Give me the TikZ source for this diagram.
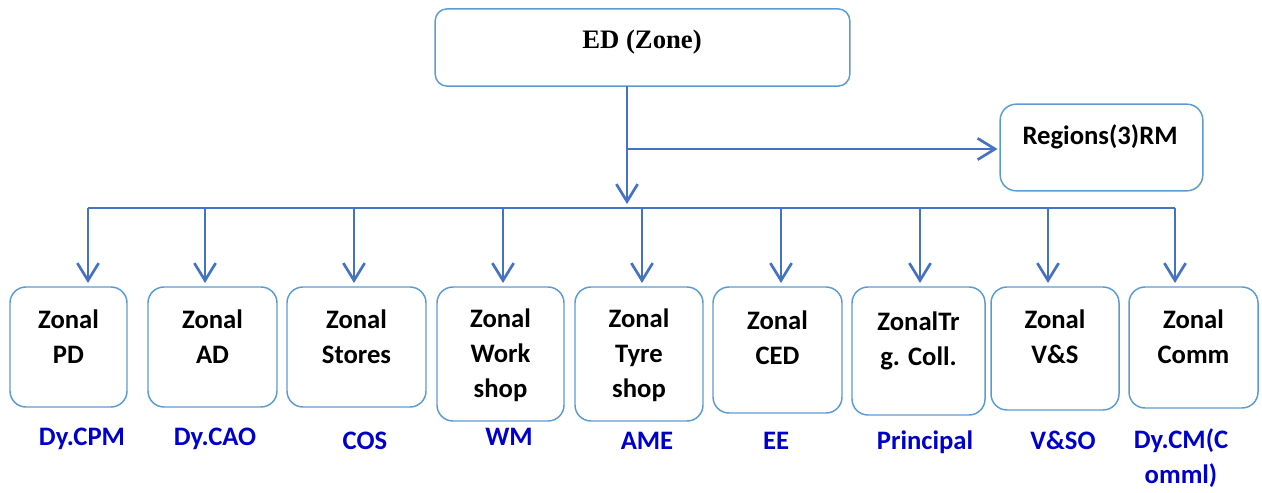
\documentclass[tikz,border=0pt]{standalone}
\usepackage{fontspec}
\setmainfont{Carlito}
\newfontfamily\edfont{Liberation Serif}
\usepackage{tikz}
\usetikzlibrary{arrows.meta, positioning}

\definecolor{boxline}{HTML}{5B9BD5}
\definecolor{arrline}{HTML}{4472C4}
\definecolor{postblue}{HTML}{0000CC}

\begin{document}
\begin{tikzpicture}[
  x=0.75pt, y=-0.75pt,
  zbox/.style={draw=boxline, line width=1.1pt, rounded corners=12pt, inner sep=0pt, outer sep=0pt},
  ztext/.style={align=center, font=\bfseries\fontsize{20}{26.25}\selectfont, inner sep=0pt},
  post/.style={align=center, text=postblue, font=\bfseries\fontsize{20}{26.25}\selectfont, inner sep=0pt, anchor=base},
  arr/.style={draw=arrline, line width=2pt, -{Straight Barb[length=13pt, width=16pt]}},
  bar/.style={draw=arrline, line width=1.5pt}
]
\useasboundingbox (0,0) rectangle (1262,492);

% top
\node[zbox, rounded corners=9pt, minimum width=311pt, minimum height=58pt] (ed) at (642.5,47.5) {};
\node[anchor=base, inner sep=0pt, font=\edfont\bfseries\fontsize{20}{24}\selectfont] (ed-t) at (642,49) {ED (Zone)};
\node[zbox, minimum width=152pt, minimum height=65pt] (reg) at (1101.5,147.5) {};
\node[ztext, anchor=base] (reg-t) at (1100,144) {Regions(3)RM};

\coordinate (trunk) at (627,208);
\coordinate (split) at (627,149);
\draw[arr, shorten >=3pt] (trunk |- ed.south) -- (trunk);
\draw[arr, shorten >=2pt] (split) -- (split -| reg.west);

% zonal units (text and post nodes sit on the base of their last line)
\foreach \nm/\xl/\xr/\yb/\ax/\ty/\txt/\lx/\ly/\lab in {
  pd/10/127/407/88/363/{Zonal\\PD}/82/445/{Dy.CPM},
  ad/148/277/407/205/363/{Zonal\\AD}/215/445/{Dy.CAO},
  st/287/426/407/354/363/{Zonal\\Stores}/365/449/{COS},
  ws/437/564/421/503/397/{Zonal\\Work\\shop}/509/445/{WM},
  ts/575/703/421/642/397/{Zonal\\Tyre\\shop}/647/449/{AME},
  ced/713/842/413/781/364/{Zonal\\CED}/776/449/{EE},
  trg/852/985/415/920/365/{ZonalTr\\g. Coll.}/925/449/{Principal},
  vs/991/1119/410/1048/363/{Zonal\\V\&S}/1063/449/{V\&SO},
  com/1129/1258/408/1175/363/{Zonal\\Comm}/1181/483/{Dy.CM(C\\omml)}}
{
  \node[zbox, minimum width={(\xr-\xl)*0.75pt}, minimum height={(\yb-287)*0.75pt}] (\nm) at ({(\xl+\xr)/2},{(287+\yb)/2}) {};
  \node[ztext, anchor=base] (\nm-t) at ({(\xl+\xr)/2},\ty) {\txt};
  \node[post] (\nm-p) at (\lx,\ly) {\lab};
  \coordinate (\nm-b) at (\ax,208);
  \draw[arr, shorten >=3pt] (\nm-b) -- (\nm-b |- \nm.north);
}
\draw[bar] (pd-b) -- (com-b);
\end{tikzpicture}
\end{document}
